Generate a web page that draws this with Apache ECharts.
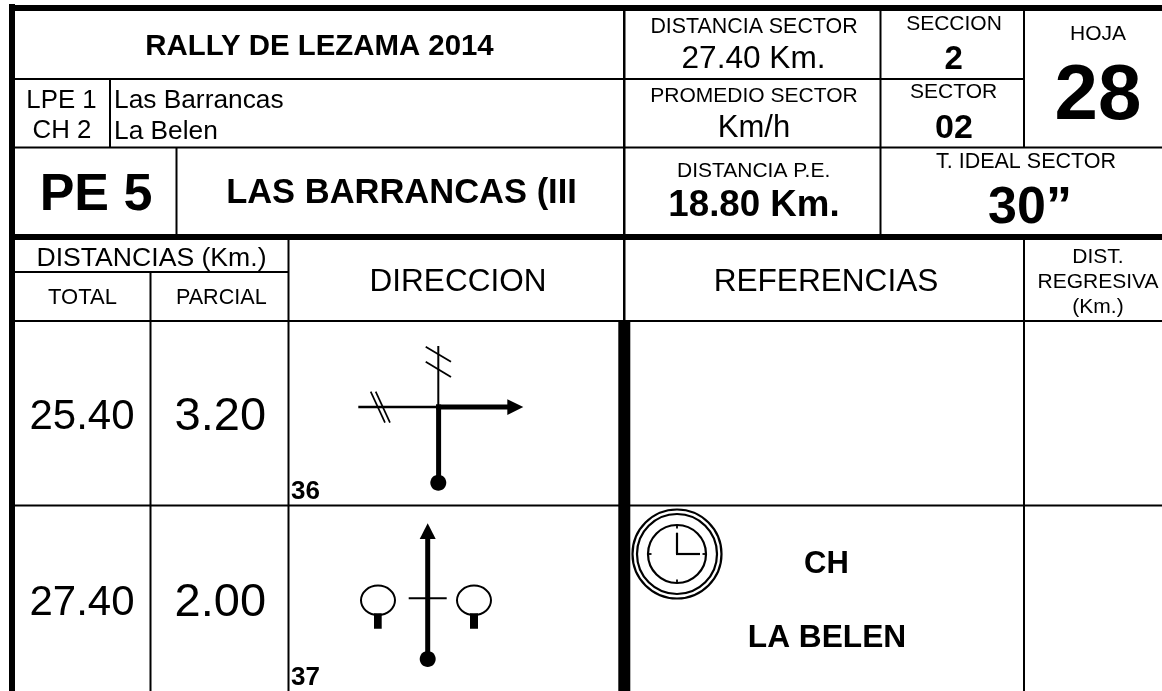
<!DOCTYPE html>
<html>
<head>
<meta charset="utf-8">
<style>html,body{margin:0;padding:0;background:#fff}#c{width:1162px;height:691px}</style>
<script src="https://cdn.jsdelivr.net/npm/echarts@6/dist/echarts.min.js"></script>
</head>
<body>
<div id="c"></div>
<script>
// ---- content ----
const rallyTitle = 'RALLY DE LEZAMA 2014';
const legLabels = ['LPE 1', 'CH 2'];
const legNames = ['Las Barrancas', 'La Belen'];
const stageId = 'PE 5';
const stageName = 'LAS BARRANCAS (III';
const sectorDistance = '27.40 Km.';
const sectorAverage = 'Km/h';
const stageDistance = '18.80 Km.';
const idealTime = '30\u201D';
const sectionNo = '2';
const sectorNo = '02';
const sheetNo = '28';
const totals = ['25.40', '27.40'];
const partials = ['3.20', '2.00'];
const stepNumbers = ['36', '37'];
const refTitle = 'CH';
const refPlace = 'LA BELEN';

// ---- text cells: [text, x, y, size, bold, align] ----
const textCells = [
  [rallyTitle, 319.5, 45, 29.4, 1, 'center'],
  [legLabels[0], 61.5, 99, 25.8, 0, 'center'],
  [legLabels[1], 62, 129.5, 25.8, 0, 'center'],
  [legNames[0], 114, 99, 26.3, 0, 'left'],
  [legNames[1], 114, 129.5, 26.3, 0, 'left'],
  [stageId, 96, 192, 52, 1, 'center'],
  [stageName, 401.5, 191, 34.5, 1, 'center'],
  ['DISTANCIA SECTOR', 754, 26, 21.4, 0, 'center'],
  [sectorDistance, 753.5, 57.5, 31.6, 0, 'center'],
  ['SECCION', 954, 23, 21, 0, 'center'],
  [sectionNo, 953.6, 58, 33, 1, 'center'],
  ['HOJA', 1098, 33, 21, 0, 'center'],
  [sheetNo, 1098, 92, 78, 1, 'center'],
  ['PROMEDIO SECTOR', 754, 94.5, 21, 0, 'center'],
  [sectorAverage, 754, 126.5, 31, 0, 'center'],
  ['SECTOR', 953.6, 91, 21, 0, 'center'],
  [sectorNo, 954, 126.5, 34, 1, 'center'],
  ['DISTANCIA P.E.', 753.6, 169.5, 21, 0, 'center'],
  [stageDistance, 754, 203.5, 36.7, 1, 'center'],
  ['T. IDEAL SECTOR', 1026, 161, 21.5, 0, 'center'],
  [idealTime, 1030, 205, 52, 1, 'center'],
  ['DISTANCIAS (Km.)', 151.5, 256.5, 26.6, 0, 'center'],
  ['TOTAL', 82.5, 296.5, 22, 0, 'center'],
  ['PARCIAL', 221.3, 296.5, 21.6, 0, 'center'],
  ['DIRECCION', 458, 280.5, 31.5, 0, 'center'],
  ['REFERENCIAS', 826, 280.5, 31.6, 0, 'center'],
  ['DIST.', 1098, 255.5, 21, 0, 'center'],
  ['REGRESIVA', 1098, 281, 21, 0, 'center'],
  ['(Km.)', 1098, 305.5, 21, 0, 'center'],
  [totals[0], 82, 414, 42, 0, 'center'],
  [partials[0], 220.3, 414, 47, 0, 'center'],
  [stepNumbers[0], 291, 490.5, 26, 1, 'left'],
  [totals[1], 82, 600, 42, 0, 'center'],
  [partials[1], 220.3, 600, 47, 0, 'center'],
  [stepNumbers[1], 291, 676, 26, 1, 'left'],
  [refTitle, 826.5, 562, 31, 1, 'center'],
  [refPlace, 827, 636, 31.7, 1, 'center']
];

// ---- ruled table bars: [x1, y1, x2, y2] ----
const tableBars = [
  [9, 4, 15, 691], [9, 5, 1162, 11],
  [15, 78, 1024, 80], [15, 146.5, 1162, 148.5], [15, 234, 1162, 240],
  [15, 271, 288, 273], [15, 320, 1162, 322], [15, 504.5, 1162, 506.5],
  [109, 79, 111, 147], [175.5, 147, 177.5, 234], [623, 11, 625.5, 320],
  [879.5, 11, 881.5, 234], [1023, 11, 1025, 147], [287.5, 240, 289.5, 691],
  [149.5, 272, 151.5, 691], [1023, 240, 1025, 691], [618.3, 321, 630.3, 691]
];

// ---- road glyph strokes: [x1, y1, x2, y2, width] ----
const glyphStrokes = [
  [438.3, 346, 438.3, 407, 2], [425.7, 346.7, 451, 361.7, 1.8], [425.7, 361.7, 451, 377, 1.8],
  [358.3, 407, 438, 407, 2.4], [370.7, 391.7, 385, 422.7, 1.7], [375.7, 391.7, 390, 422.7, 1.7],
  [436, 407, 508, 407, 5], [438.6, 404.5, 438.6, 480, 5],
  [427.7, 538, 427.7, 658, 5], [408.7, 598.3, 446.7, 598.3, 2],
  [374, 621, 381.7, 621, 15.5], [470, 621, 478, 621, 15.5],
  [677, 532.7, 677, 554, 2.2], [676, 554, 700, 554, 2.2],
  [677, 525, 677, 528.5, 1.8], [677, 579.5, 677, 583, 1.8], [648, 554, 651.5, 554, 1.8], [702.5, 554, 706, 554, 1.8]
];

// ---- round parts: [cx, cy, rx, ry, strokeWidth, filled] ----
const glyphRounds = [
  [438.3, 482.7, 8, 8, 0, 1], [427.7, 659, 8, 8, 0, 1],
  [378, 600.3, 17, 14.7, 2, 0], [474, 600.3, 17, 14.7, 2, 0],
  [677, 554, 44.5, 44.5, 2.2, 0], [677, 554, 40, 40, 2.2, 0], [677, 554, 29, 29, 2.2, 0]
];

// ---- arrow heads: three corner pairs ----
const glyphHeads = [
  [507.3, 399.3, 507.3, 415, 523.3, 407],
  [427.7, 523.3, 419.7, 539, 435.7, 539]
];

const idx = a => a.map((_, i) => i);
const custom = (data, renderItem, z) => ({
  type: 'custom', coordinateSystem: 'cartesian2d', data: idx(data), silent: true,
  clip: false, z, encode: { x: [], y: [] }, renderItem
});

const chart = echarts.init(document.getElementById('c'), null, { renderer: 'canvas' });
chart.setOption({
  animation: false,
  backgroundColor: '#fff',
  grid: { left: 0, right: 0, top: 0, bottom: 0 },
  xAxis: { type: 'value', min: 0, max: 1162, show: false },
  yAxis: { type: 'value', min: 0, max: 691, inverse: true, show: false },
  tooltip: { show: false },
  series: [
    custom(tableBars, (p, api) => {
      const b = tableBars[p.dataIndex];
      const a = api.coord([b[0], b[1]]), c = api.coord([b[2], b[3]]);
      return { type: 'rect', shape: { x: a[0], y: a[1], width: c[0] - a[0], height: c[1] - a[1] }, style: { fill: '#000' } };
    }, 2),
    custom(glyphStrokes, (p, api) => {
      const s = glyphStrokes[p.dataIndex];
      const a = api.coord([s[0], s[1]]), c = api.coord([s[2], s[3]]);
      return { type: 'line', shape: { x1: a[0], y1: a[1], x2: c[0], y2: c[1] }, style: { stroke: '#000', lineWidth: s[4], fill: null } };
    }, 3),
    custom(glyphRounds, (p, api) => {
      const r = glyphRounds[p.dataIndex];
      const a = api.coord([r[0], r[1]]);
      return { type: 'ellipse', shape: { cx: a[0], cy: a[1], rx: r[2], ry: r[3] },
        style: r[5] ? { fill: '#000' } : { fill: null, stroke: '#000', lineWidth: r[4] } };
    }, 4),
    custom(glyphHeads, (p, api) => {
      const h = glyphHeads[p.dataIndex];
      return { type: 'polygon', shape: { points: [api.coord([h[0], h[1]]), api.coord([h[2], h[3]]), api.coord([h[4], h[5]])] }, style: { fill: '#000' } };
    }, 4),
    custom(textCells, (p, api) => {
      const t = textCells[p.dataIndex];
      const a = api.coord([t[1], t[2] + t[3] * 0.07]);
      return { type: 'text', x: a[0], y: a[1], style: {
        text: t[0], fill: '#000', align: t[5], verticalAlign: 'middle',
        font: (t[4] ? 'bold ' : '') + t[3] + 'px "Liberation Sans", Arial, sans-serif'
      } };
    }, 5)
  ]
});
</script>
</body>
</html>
